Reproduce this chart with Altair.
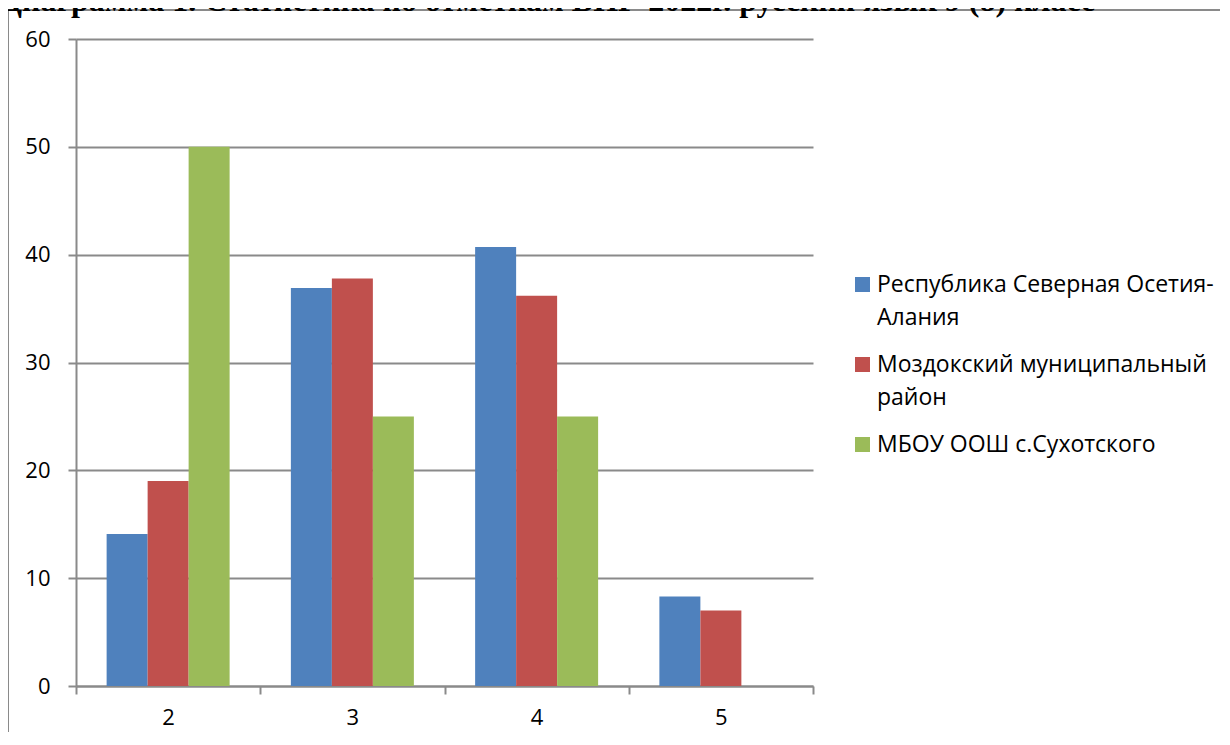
import altair as alt
import pandas as pd

title_text = "Диаграмма 1. Статистика по отметкам ВПР-2022г. русский язык 9 (8) класс"
grades = ["2", "3", "4", "5"]
series = [
    "Республика Северная Осетия-Алания",
    "Моздокский муниципальный район",
    "МБОУ ООШ с.Сухотского",
]
legend_lines = [
    ["Республика Северная Осетия-", "Алания"],
    ["Моздокский муниципальный", "район"],
    ["МБОУ ООШ с.Сухотского"],
]
colors = ["#4F81BD", "#C0504D", "#9BBB59"]
vals_region = [14.1, 36.9, 40.7, 8.3]
vals_district = [19.0, 37.8, 36.2, 7.0]
vals_school = [50.0, 25.0, 25.0, 0.0]
y_ticks = [0, 10, 20, 30, 40, 50, 60]

rows = []
for s, vals in zip(series, [vals_region, vals_district, vals_school]):
    for g, v in zip(grades, vals):
        rows.append({"grade": g, "series": s, "value": v})
df = pd.DataFrame(rows)

legend_data = alt.InlineData(values=[{"series": s, "lines": l} for s, l in zip(series, legend_lines)])

FONT = "Open Sans"
GRID = "#8a8a8a"
W, H = 737, 647
PAD = {"left": 68, "top": 31, "right": 407, "bottom": 46}
SVG_W = W + PAD["left"] + PAD["right"]
SVG_H = H + PAD["top"] + PAD["bottom"]
color_scale = alt.Scale(domain=series, range=colors)

bars = alt.Chart(df).mark_bar().encode(
    x=alt.X(
        "grade:N", sort=grades, title=None,
        scale=alt.Scale(paddingInner=0, paddingOuter=0),
        axis=alt.Axis(labelAngle=0, tickBand="extent", tickSize=8, tickColor=GRID, tickWidth=2,
                      domainColor=GRID, domainWidth=2, labelFont=FONT, labelFontSize=22,
                      labelColor="black", labelPadding=13, grid=False),
    ),
    xOffset=alt.XOffset("series:N", sort=series,
                        scale=alt.Scale(paddingInner=0, paddingOuter=0.747)),
    y=alt.Y(
        "value:Q", title=None, scale=alt.Scale(domain=[0, 60], nice=False),
        axis=alt.Axis(values=y_ticks, tickSize=8, tickColor=GRID, tickWidth=2, domainColor=GRID,
                      domainWidth=2, grid=True, gridColor=GRID, gridWidth=2, labelFont=FONT,
                      labelFontSize=22, labelColor="black", labelPadding=18),
    ),
    color=alt.Color("series:N", scale=color_scale, legend=None),
)

leg_sq = alt.Chart(legend_data).mark_square(size=225, opacity=1).encode(
    x=alt.value(786.5),
    y=alt.Y("series:N", sort=series, axis=None,
            scale=alt.Scale(type="point", range=[245.5, 405.5], padding=0)),
    color=alt.Color("series:N", scale=color_scale, legend=None),
)

leg_txt = alt.Chart(legend_data).mark_text(
    align="left", baseline="alphabetic", font=FONT, fontSize=23, lineHeight=33, color="black"
).encode(
    x=alt.value(801),
    y=alt.Y("series:N", sort=series, axis=None,
            scale=alt.Scale(type="point", range=[253, 413], padding=0)),
    text=alt.Text("lines:N"),
)

title_df = pd.DataFrame({"t": [title_text]})
title = alt.Chart(title_df).mark_text(
    align="left", baseline="alphabetic", font="Liberation Serif", fontSize=32,
    fontWeight="bold", color="black"
).encode(x=alt.value(-76), y=alt.value(-28), text="t:N")

one = pd.DataFrame({"a": [0]})
border_top = alt.Chart(one).mark_rule(color=GRID, strokeWidth=2).encode(
    x=alt.value(-68), x2=alt.value(SVG_W - PAD["left"]), y=alt.value(-29))
border_left = alt.Chart(one).mark_rule(color=GRID, strokeWidth=2).encode(
    x=alt.value(-68), y=alt.value(-29), y2=alt.value(SVG_H - PAD["top"]))

chart = alt.layer(border_top, border_left, title, bars, leg_sq, leg_txt).resolve_scale(
    y="independent"
).properties(
    width=W, height=H,
    autosize=alt.AutoSizeParams(type="none"),
    padding=PAD,
).configure_view(stroke=None)

chart.save("out.html", embed_options={"renderer": "svg", "actions": False})
